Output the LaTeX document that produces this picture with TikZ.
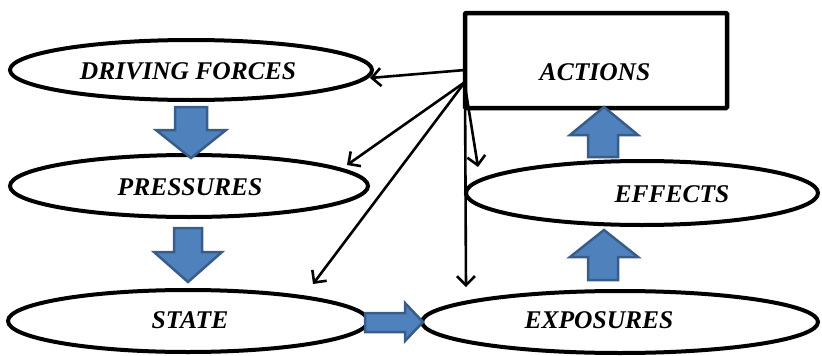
\documentclass[tikz,border=0pt]{standalone}
\usepackage{fontspec}
\setmainfont{Liberation Serif}
\usetikzlibrary{shapes.geometric, arrows.meta}
\definecolor{arrfill}{HTML}{4F81BD}
\definecolor{arrline}{HTML}{385D8A}
\begin{document}
\begin{tikzpicture}[x=1pt, y=-1pt,
	oval/.style={ellipse, draw, line width=4pt, inner sep=0pt},
	box/.style={rectangle, draw, line width=4.5pt, rounded corners=1pt, inner sep=0pt},
	lbl/.style={font=\fontsize{25.5}{30}\selectfont\bfseries\itshape},
	link/.style={->, line width=2.6pt, >={Straight Barb[length=9pt, width=18pt, line width=2.6pt]}},
	blockarr/.style={fill=arrfill, draw=arrline, line width=2.5pt, line join=miter}]
	\useasboundingbox (0,0) rectangle (822,356);
	% ovals and box
	\node[oval, minimum width=362pt, minimum height=60pt] (drv) at (191, 70) {};
	\node[oval, minimum width=358pt, minimum height=62pt] (prs) at (189, 186) {};
	\node[oval, minimum width=360pt, minimum height=62pt] (sta) at (188, 321) {};
	\node[oval, minimum width=396pt, minimum height=62pt] (exp) at (620, 322) {};
	\node[oval, minimum width=352pt, minimum height=64pt] (eff) at (642, 193) {};
	\node[box, minimum width=262pt, minimum height=95pt] (act) at (596, 60.5) {};
	% labels
	\node[lbl] (drvtxt) at (188, 71) {DRIVING FORCES};
	\node[lbl] (prstxt) at (190, 187) {PRESSURES};
	\node[lbl] (statxt) at (190, 320) {STATE};
	\node[lbl] (exptxt) at (599, 320) {EXPOSURES};
	\node[lbl] (efftxt) at (672, 194) {EFFECTS};
	\node[lbl] (acttxt) at (595, 72) {ACTIONS};
	% block arrows
	\draw[blockarr] (175,107) -- (207,107) -- (207,130) -- (226,130) -- (191,158) -- (156,130) -- (175,130) -- cycle;
	\draw[blockarr] (174,228) -- (202,228) -- (202,252) -- (222,252) -- (188,282) -- (154,252) -- (174,252) -- cycle;
	\draw[blockarr] (365,313) -- (405,313) -- (405,303) -- (423,322) -- (405,341) -- (405,332) -- (365,332) -- cycle;
	\draw[blockarr] (588,280) -- (618,280) -- (618,257) -- (638,257) -- (604,230) -- (570,257) -- (588,257) -- cycle;
	\draw[blockarr] (588,157) -- (618,157) -- (618,135) -- (638,135) -- (604,107) -- (570,135) -- (588,135) -- cycle;
	% links from actions
	\coordinate (o1) at (465, 70);
	\coordinate (o2) at (465, 82);
	\coordinate (o3) at (465, 86);
	\coordinate (t1) at (370, 78);
	\coordinate (t2) at (347, 165);
	\coordinate (t3) at (313, 284);
	\coordinate (t4) at (466, 287);
	\coordinate (t5) at (478, 167);
	\draw[link] (o1) -- (t1);
	\draw[link] (o2) -- (t2);
	\draw[link] (o2) -- (t3);
	\draw[link] (o3) -- (t4);
	\draw[link] (o3) -- (t5);
\end{tikzpicture}
\end{document}
